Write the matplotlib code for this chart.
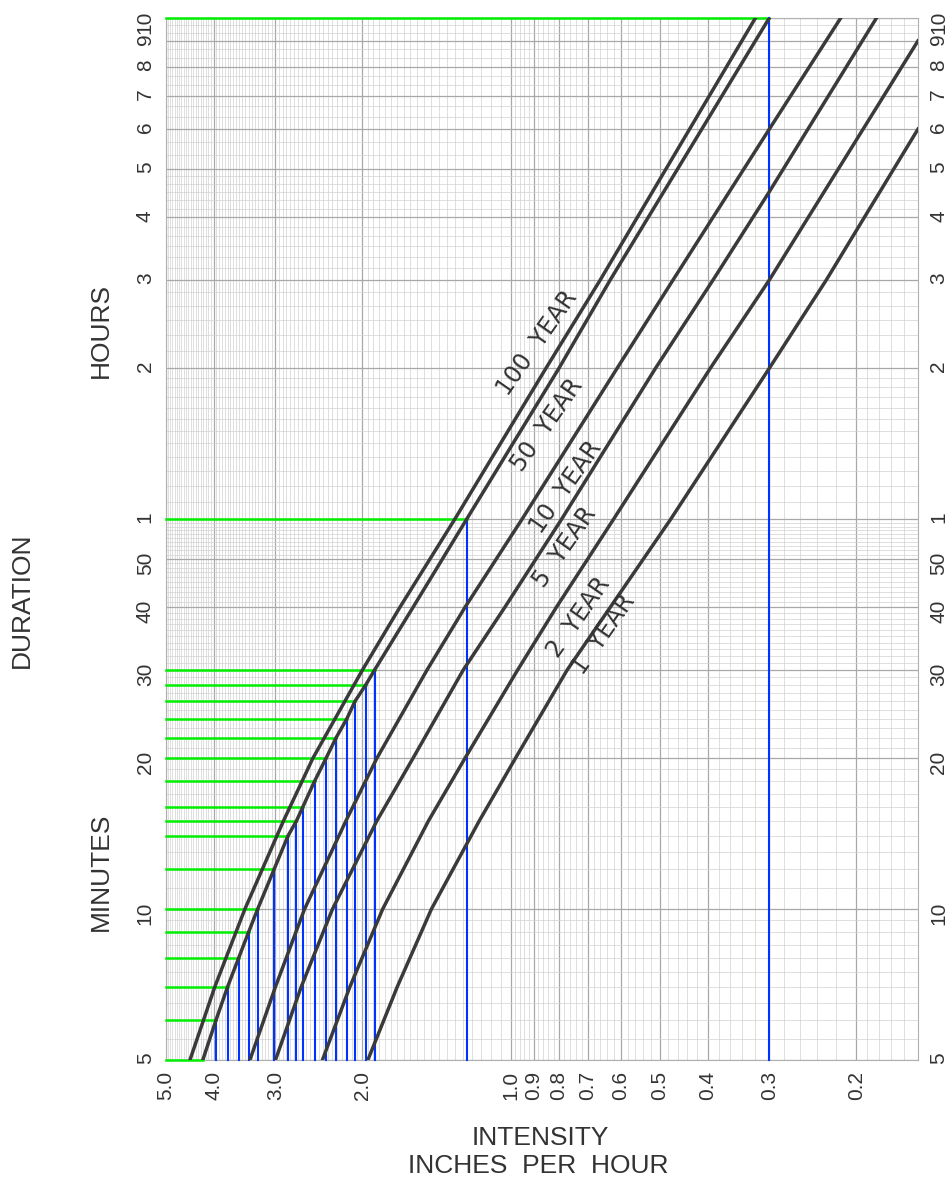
import numpy as np
import matplotlib.pyplot as plt
from matplotlib.ticker import FixedLocator, NullFormatter

plt.rcParams['font.family'] = ['Liberation Sans', 'DejaVu Sans']

# durations (minutes) and intensities (in/hr)
dur_100 = [5, 7, 10, 15, 20, 30, 40, 60, 120, 180, 600]
int_100 = [4.47, 3.98, 3.46, 2.89, 2.52, 2.00, 1.68, 1.30, 0.85, 0.66, 0.32]

dur_50 = [5, 6, 7, 8, 9, 10, 12, 14, 15, 16, 18, 20, 22, 24, 26, 28, 30, 40, 60, 120, 180, 600]
int_50 = [4.21, 3.96, 3.75, 3.56, 3.40, 3.26, 3.02, 2.83, 2.72, 2.64, 2.50, 2.37,
          2.26, 2.15, 2.07, 1.97, 1.89, 1.58, 1.23, 0.80, 0.63, 0.30]

dur_10 = [5, 7, 10, 15, 20, 30, 40, 60, 120, 180, 360, 600]
int_10 = [3.38, 3.00, 2.62, 2.16, 1.87, 1.48, 1.24, 0.95, 0.61, 0.47, 0.30, 0.215]

dur_5 = [5, 7, 10, 15, 20, 30, 40, 60, 120, 180, 270, 600]
int_5 = [3.00, 2.66, 2.30, 1.87, 1.58, 1.25, 1.03, 0.79, 0.51, 0.39, 0.30, 0.182]

dur_2 = [5, 7, 10, 15, 20, 30, 40, 60, 120, 180, 540]
int_2 = [2.41, 2.12, 1.82, 1.47, 1.24, 0.97, 0.81, 0.62, 0.395, 0.30, 0.15]

dur_1 = [5, 7, 10, 15, 20, 30, 40, 60, 120, 180, 360]
int_1 = [1.95, 1.70, 1.45, 1.16, 0.98, 0.77, 0.63, 0.475, 0.30, 0.23, 0.15]

# durations marked with green/blue lines on the 50 year curve
marked_dur = [5, 6, 7, 8, 9, 10, 12, 14, 15, 16, 18, 20, 22, 24, 26, 28, 30, 60, 600]

x_ticks = [5.0, 4.0, 3.0, 2.0, 1.0, 0.9, 0.8, 0.7, 0.6, 0.5, 0.4, 0.3, 0.2]
y_ticks = [5, 10, 20, 30, 40, 50, 60, 120, 180, 240, 300, 360, 420, 480, 540, 600]
y_labels = ['5', '10', '20', '30', '40', '50', '1', '2', '3', '4', '5', '6', '7', '8', '9', '10']

fig = plt.figure(figsize=(9.48, 11.82), dpi=100)
ax = fig.add_axes([0.175, 0.1032, 0.7933, 0.8816])
ax.set_xscale('log')
ax.set_yscale('log')
ax.set_xlim(5.0, 0.15)
ax.set_ylim(5, 600)

# log paper grid
xminor = np.concatenate([np.arange(0.15, 0.2, 0.01), np.arange(0.2, 1.0, 0.02), np.arange(1.0, 5.0, 0.05)])
yminor = np.concatenate([np.arange(5, 10, 0.5), np.arange(10, 60, 1), np.arange(60, 120, 5),
                         np.arange(120, 300, 10), np.arange(300, 600, 20)])
ax.xaxis.set_major_locator(FixedLocator(x_ticks))
ax.xaxis.set_minor_locator(FixedLocator(xminor))
ax.yaxis.set_major_locator(FixedLocator(y_ticks))
ax.yaxis.set_minor_locator(FixedLocator(yminor))
ax.xaxis.set_minor_formatter(NullFormatter())
ax.yaxis.set_minor_formatter(NullFormatter())
ax.set_xticklabels(['%.1f' % v for v in x_ticks])
ax.set_yticklabels(y_labels)
ax.grid(which='major', color='#a8a8a8', lw=0.9)
ax.grid(which='minor', color='#d2d2d2', lw=0.5)
ax.set_axisbelow(True)
for s in ax.spines.values():
    s.set_color('#b0b0b0')

ax.tick_params(axis='both', which='both', length=0, labelsize=15, labelcolor='#333333')
ax.tick_params(axis='x', labelrotation=90, pad=8)
ax.tick_params(axis='y', labelrotation=90, pad=8, labelright=True)

# marker lines
lookup = dict(zip(dur_50, int_50))
for d in marked_dur:
    i = lookup[d]
    ax.plot([5.0, i], [d, d], color='#00ee00', lw=1.8, clip_on=False, zorder=3)
    ax.plot([i, i], [5, d], color='#0033ff', lw=1.5, clip_on=False, zorder=3)

# IDF curves
curves = [(dur_100, int_100), (dur_50, int_50), (dur_10, int_10),
          (dur_5, int_5), (dur_2, int_2), (dur_1, int_1)]
for d, i in curves:
    ax.plot(i, d, color='#3a3a3a', lw=2.5, zorder=4, solid_joinstyle='round')

lab_kw = dict(rotation=55, ha='center', va='center', fontsize=17, color='#333333',
              family='DejaVu Sans', zorder=5)
ax.text(0.886, 135, '100  YEAR', **lab_kw)
ax.text(0.846, 92.6, '50  YEAR', **lab_kw)
ax.text(0.774, 69.6, '10  YEAR', **lab_kw)
ax.text(0.777, 52.8, '5  YEAR', **lab_kw)
ax.text(0.729, 38.3, '2  YEAR', **lab_kw)
ax.text(0.649, 35.3, '1  YEAR', **lab_kw)

t_kw = dict(ha='center', va='center', fontsize=19, color='#333333')
fig.text(0.023, 1 - 600 / 1182, 'DURATION', rotation=90, **t_kw)
fig.text(0.106, 1 - 330 / 1182, 'HOURS', rotation=90, **t_kw)
fig.text(0.106, 1 - 872 / 1182, 'MINUTES', rotation=90, **t_kw)
fig.text(0.57, 1 - 1138 / 1182, 'INTENSITY', **t_kw)
fig.text(0.568, 1 - 1166 / 1182, 'INCHES  PER  HOUR', **t_kw)

fig.savefig('out.png', dpi=100)
